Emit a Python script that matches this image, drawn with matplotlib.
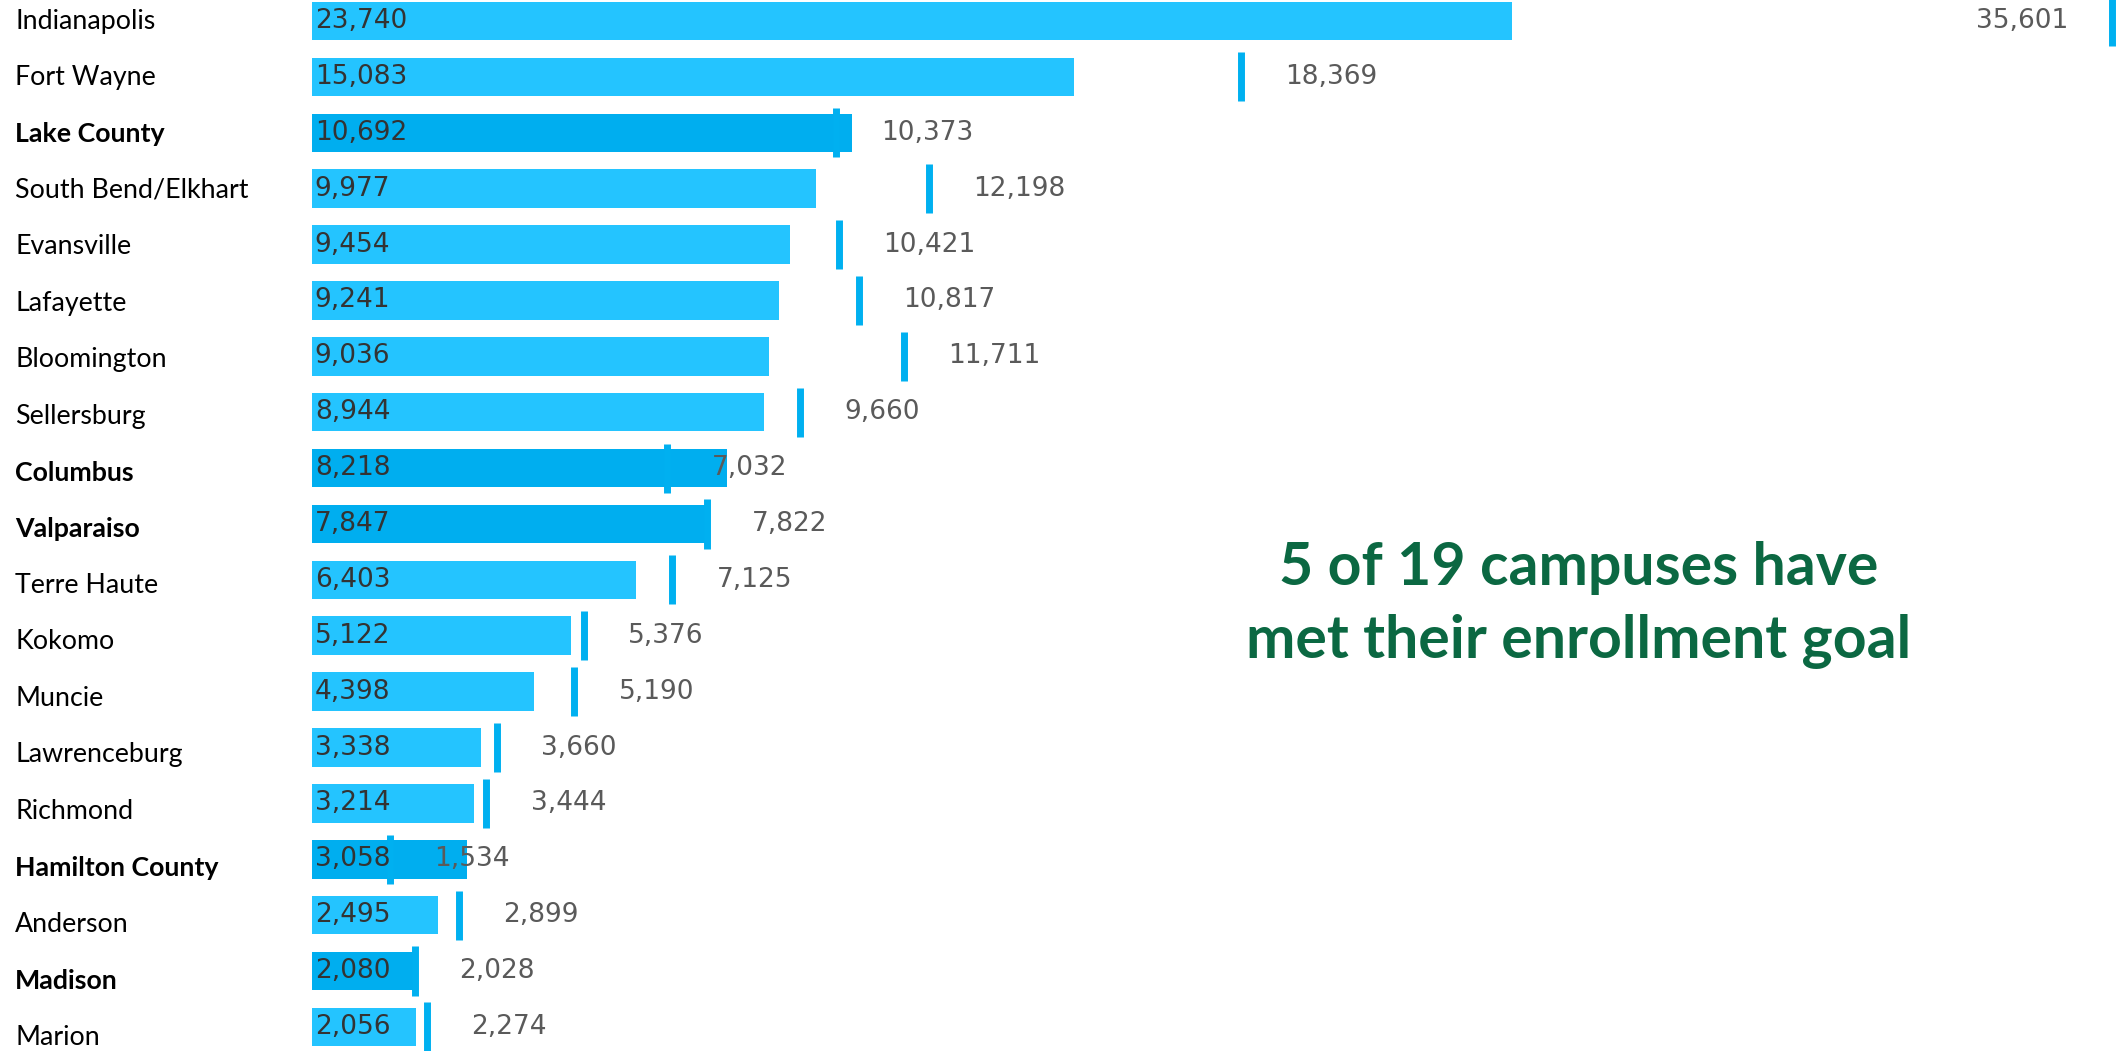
import numpy as np
import matplotlib.pyplot as plt
from matplotlib.transforms import blended_transform_factory

campuses = ["Indianapolis", "Fort Wayne", "Lake County", "South Bend/Elkhart", "Evansville",
            "Lafayette", "Bloomington", "Sellersburg", "Columbus", "Valparaiso", "Terre Haute",
            "Kokomo", "Muncie", "Lawrenceburg", "Richmond", "Hamilton County", "Anderson",
            "Madison", "Marion"]
enrolled = [23740, 15083, 10692, 9977, 9454, 9241, 9036, 8944, 8218, 7847, 6403,
            5122, 4398, 3338, 3214, 3058, 2495, 2080, 2056]
goal = [35601, 18369, 10373, 12198, 10421, 10817, 11711, 9660, 7032, 7822, 7125,
        5376, 5190, 3660, 3444, 1534, 2899, 2028, 2274]
note = "5 of 19 campuses have\nmet their enrollment goal"

light = "#24C4FF"
dark = "#00AEEF"
marker_col = "#00B0F0"

fig = plt.figure(figsize=(21.19, 10.51), dpi=100)
ax = fig.add_axes([312 / 2119, 0, 1807 / 2119, 1])
ax.set_xlim(0, 35747)
ax.set_ylim(18.43, -0.376)
ax.axis("off")

y = np.arange(len(campuses))
met = [e >= g for e, g in zip(enrolled, goal)]
cols = [dark if m else light for m in met]
ax.barh(y, enrolled, height=0.69, color=cols, zorder=2)
ax.vlines(goal, y - 0.44, y + 0.44, color=marker_col, lw=5, zorder=3)

for i in range(len(campuses)):
    ax.annotate(f"{enrolled[i]:,}", (0, i), xytext=(2, 0), textcoords="offset points",
                ha="left", va="center", fontsize=19, color="#333333", family="DejaVu Sans", zorder=4)
    if i == 0:
        ax.annotate(f"{goal[i]:,}", (goal[i], i), xytext=(-31, 0), textcoords="offset points",
                    ha="right", va="center", fontsize=19, color="#5a5a5a", family="DejaVu Sans", zorder=4)
    else:
        ax.annotate(f"{goal[i]:,}", (goal[i], i), xytext=(32, 0), textcoords="offset points",
                    ha="left", va="center", fontsize=19, color="#5a5a5a", family="DejaVu Sans", zorder=4)

tr = blended_transform_factory(fig.transFigure, ax.transData)
for i, name in enumerate(campuses):
    ax.text(15 / 2119, i * 1.01, name, transform=tr, ha="left", va="center", fontsize=19.3,
            family="Lato", fontweight="bold" if met[i] else "normal", color="black")

fig.text(1579 / 2119, 1 - 605 / 1051, note, ha="center", va="center", fontsize=42.5,
         family="Lato", fontweight="bold", color="#0B6842", linespacing=1.42)

fig.savefig("out.png", dpi=100)
